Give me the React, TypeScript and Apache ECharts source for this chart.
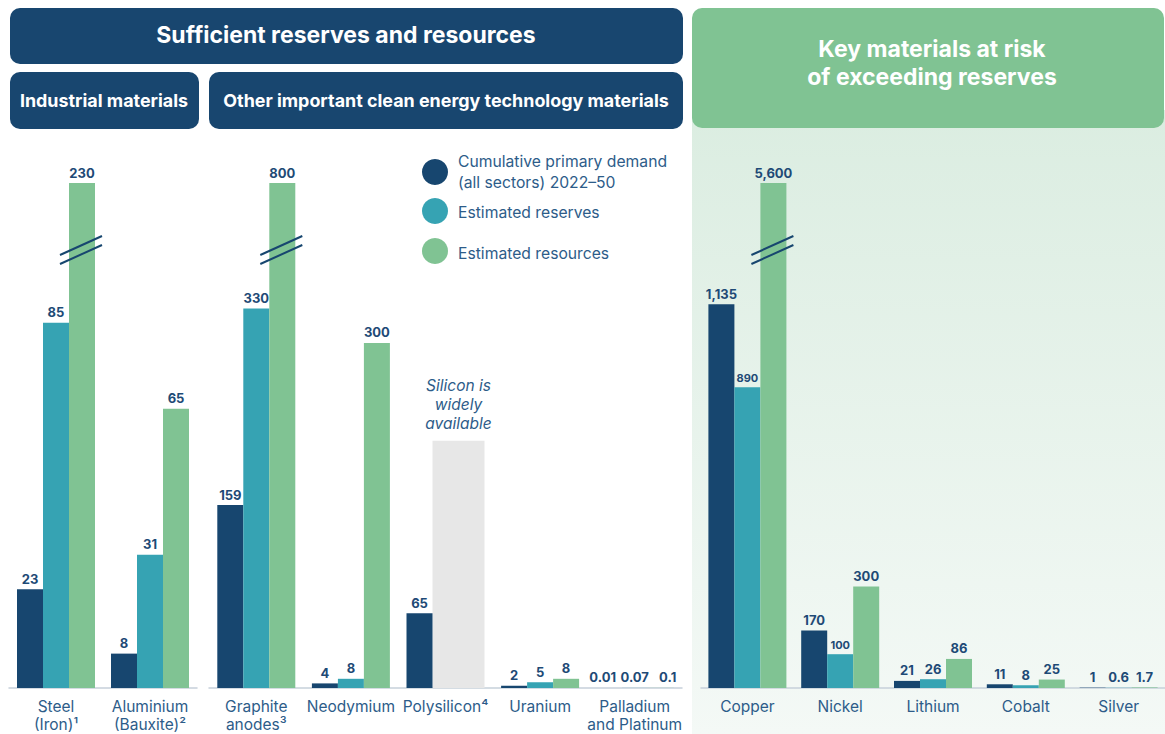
import React, { useEffect, useRef } from 'react';
import * as echarts from 'echarts';

// ---------- data ----------
const seriesNames = ['Cumulative primary demand\n(all sectors) 2022–50', 'Estimated reserves', 'Estimated resources'];

const industrialCategories = ['Steel\n(Iron)¹', 'Aluminium\n(Bauxite)²'];
const industrialDemand = [23, 8];
const industrialReserves = [85, 31];
const industrialResources = [230, 65];

const cleanCategories = ['Graphite\nanodes³', 'Neodymium', 'Polysilicon⁴', 'Uranium', 'Palladium\nand Platinum'];
const cleanDemand = [159, 4, 65, 2, 0.01];
const cleanReserves: (number | null)[] = [330, 8, null, 5, 0.07];
const cleanResources: (number | null)[] = [800, 300, null, 8, 0.1];

const riskCategories = ['Copper', 'Nickel', 'Lithium', 'Cobalt', 'Silver'];
const riskDemand = [1135, 170, 21, 11, 1];
const riskReserves = [890, 100, 26, 8, 0.6];
const riskResources = [5600, 300, 86, 25, 1.7];

// height of the grey "widely available" column for polysilicon (clean-energy scale)
const siliconPlaceholder = 215;
const siliconNote = 'Silicon is\nwidely\navailable';

// value at which each panel's axis is cut (bars above it are drawn broken)
const industrialCap = 117.5;
const cleanCap = 439;
const riskCap = 1494;

// ---------- style ----------
const FONT = 'Inter, "Noto Sans", sans-serif';
const C = {
  demand: '#17466f',
  reserves: '#36a3b3',
  resources: '#80c393',
  grey: '#e7e7e7',
  label: '#1e4a76',
  axisText: '#2d5c89',
  header: '#18466f',
  axisLine: '#c6d0da',
};
const BAR_W = 26;

const fmt = (v: number) => (v >= 1000 ? v.toLocaleString('en-US') : String(v));

function barSeries(gi: number, name: string, arr: (number | null)[], color: string, cap: number, overrides: Record<number, any> = {}) {
  return {
    type: 'bar',
    name,
    xAxisIndex: gi,
    yAxisIndex: gi,
    barWidth: BAR_W,
    barGap: '0%',
    itemStyle: { color },
    label: {
      show: true,
      position: 'top',
      distance: 4,
      color: C.label,
      fontWeight: 'bold',
      fontSize: 13,
      fontFamily: FONT,
      formatter: (p: any) => fmt(arr[p.dataIndex] as number),
    },
    data: arr.map((v, i) => (v == null ? null : { value: Math.min(v, cap), ...(overrides[i] || {}) })),
  };
}

function breakSeries(gi: number, resources: (number | null)[], cap: number) {
  const data = resources
    .map((v, i) => (v != null && v > cap ? [i, cap] : null))
    .filter((d) => d !== null);
  return {
    type: 'custom',
    xAxisIndex: gi,
    yAxisIndex: gi,
    z: 5,
    silent: true,
    data,
    renderItem: (_params: any, api: any) => {
      const top = api.coord([api.value(0), api.value(1)]);
      const x = top[0] + BAR_W;
      const y = top[1] + 66;
      const st = { stroke: C.demand, lineWidth: 2 };
      return {
        type: 'group',
        children: [
          { type: 'line', shape: { x1: x - 22, y1: y + 6, x2: x + 20, y2: y - 13 }, style: st },
          { type: 'line', shape: { x1: x - 22, y1: y + 15, x2: x + 20, y2: y - 4 }, style: st },
        ],
      };
    },
  };
}

function xAxis(gi: number, cats: string[]) {
  return {
    type: 'category',
    gridIndex: gi,
    data: cats,
    axisTick: { show: false },
    axisLine: { show: true, lineStyle: { color: C.axisLine, width: 1.5 } },
    axisLabel: { color: C.axisText, fontSize: 15.5, fontFamily: FONT, lineHeight: 18, margin: 9, interval: 0 },
  };
}
function yAxis(gi: number, cap: number) {
  return { type: 'value', gridIndex: gi, min: 0, max: cap, show: false };
}

export default function App() {
  const ref = useRef<HTMLDivElement>(null);
  useEffect(() => {
    if (!ref.current) return;
    const chart = echarts.init(ref.current, undefined, { renderer: 'svg' });
    const small = { label: { fontSize: 11 } };
    const gridBase = { top: 183, bottom: 46, containLabel: false, outerBoundsMode: 'none' };
    const option: any = {
      animation: false,
      backgroundColor: '#ffffff',
      textStyle: { fontFamily: FONT },
      grid: [
        { ...gridBase, left: 9, width: 188 },
        { ...gridBase, left: 209, width: 473 },
        { ...gridBase, left: 701, width: 464 },
      ],
      xAxis: [xAxis(0, industrialCategories), xAxis(1, cleanCategories), xAxis(2, riskCategories)],
      yAxis: [yAxis(0, industrialCap), yAxis(1, cleanCap), yAxis(2, riskCap)],
      graphic: [
        // right panel background
        {
          type: 'rect', z: -10, silent: true,
          shape: { x: 692, y: 110, width: 473, height: 624 },
          style: {
            fill: new echarts.graphic.LinearGradient(0, 0, 0, 1, [
              { offset: 0, color: '#dbede1' },
              { offset: 1, color: '#f4f9f6' },
            ]),
          },
        },
        { type: 'rect', z: -5, silent: true, shape: { x: 10, y: 8, width: 673, height: 56, r: 10 }, style: { fill: C.header } },
        { type: 'rect', z: -5, silent: true, shape: { x: 10, y: 72, width: 189, height: 57, r: 10 }, style: { fill: C.header } },
        { type: 'rect', z: -5, silent: true, shape: { x: 209, y: 72, width: 474, height: 57, r: 10 }, style: { fill: C.header } },
        { type: 'rect', z: -5, silent: true, shape: { x: 692, y: 8, width: 472, height: 120, r: 10 }, style: { fill: C.resources } },
        {
          type: 'text', x: 346, y: 35, silent: true,
          style: { text: 'Sufficient reserves and resources', fill: '#fff', fontSize: 23, fontWeight: 'bold', fontFamily: FONT, align: 'center', verticalAlign: 'middle' },
        },
        {
          type: 'text', x: 104, y: 100, silent: true,
          style: { text: 'Industrial materials', fill: '#fff', fontSize: 17.9, fontWeight: 'bold', fontFamily: FONT, align: 'center', verticalAlign: 'middle' },
        },
        {
          type: 'text', x: 446, y: 100, silent: true,
          style: { text: 'Other important clean energy technology materials', fill: '#fff', fontSize: 17.9, fontWeight: 'bold', fontFamily: FONT, align: 'center', verticalAlign: 'middle' },
        },
        {
          type: 'text', x: 932, y: 63, silent: true,
          style: { text: 'Key materials at risk\nof exceeding reserves', fill: '#fff', fontSize: 23, lineHeight: 28, fontWeight: 'bold', fontFamily: FONT, align: 'center', verticalAlign: 'middle' },
        },
        // legend
        { type: 'circle', shape: { cx: 435, cy: 172, r: 13 }, style: { fill: C.demand } },
        { type: 'circle', shape: { cx: 435, cy: 211, r: 13 }, style: { fill: C.reserves } },
        { type: 'circle', shape: { cx: 435, cy: 251, r: 13 }, style: { fill: C.resources } },
        {
          type: 'text', x: 458, y: 172,
          style: { text: seriesNames[0], fill: C.axisText, fontSize: 15.7, lineHeight: 21, fontFamily: FONT, align: 'left', verticalAlign: 'middle' },
        },
        {
          type: 'text', x: 458, y: 212,
          style: { text: seriesNames[1], fill: C.axisText, fontSize: 15.7, fontFamily: FONT, align: 'left', verticalAlign: 'middle' },
        },
        {
          type: 'text', x: 458, y: 253,
          style: { text: seriesNames[2], fill: C.axisText, fontSize: 15.7, fontFamily: FONT, align: 'left', verticalAlign: 'middle' },
        },
      ],
      series: [
        barSeries(0, seriesNames[0], industrialDemand, C.demand, industrialCap),
        barSeries(0, seriesNames[1], industrialReserves, C.reserves, industrialCap),
        barSeries(0, seriesNames[2], industrialResources, C.resources, industrialCap),
        breakSeries(0, industrialResources, industrialCap),

        barSeries(1, seriesNames[0], cleanDemand, C.demand, cleanCap, { 4: { label: { offset: [-6, 0] } } }),
        barSeries(1, seriesNames[1], cleanReserves, C.reserves, cleanCap),
        barSeries(1, seriesNames[2], cleanResources, C.resources, cleanCap, { 4: { label: { offset: [7, 0] } } }),
        breakSeries(1, cleanResources, cleanCap),
        {
          type: 'custom',
          xAxisIndex: 1,
          yAxisIndex: 1,
          z: 1,
          silent: true,
          data: [[cleanCategories.indexOf('Polysilicon⁴'), siliconPlaceholder]],
          renderItem: (_p: any, api: any) => {
            const base = api.coord([api.value(0), 0]);
            const top = api.coord([api.value(0), api.value(1)]);
            return {
              type: 'group',
              children: [
                {
                  type: 'rect',
                  shape: { x: base[0] - BAR_W / 2, y: top[1], width: BAR_W * 2, height: base[1] - top[1] },
                  style: { fill: C.grey },
                },
                {
                  type: 'text',
                  x: base[0] + BAR_W / 2,
                  y: top[1] - 8,
                  style: {
                    text: siliconNote, fill: C.axisText, fontSize: 15.5, fontStyle: 'italic', lineHeight: 19,
                    fontFamily: FONT, align: 'center', verticalAlign: 'bottom',
                  },
                },
              ],
            };
          },
        },

        barSeries(2, seriesNames[0], riskDemand, C.demand, riskCap),
        barSeries(2, seriesNames[1], riskReserves, C.reserves, riskCap, { 0: small, 1: small }),
        barSeries(2, seriesNames[2], riskResources, C.resources, riskCap),
        breakSeries(2, riskResources, riskCap),
      ],
    };
    chart.setOption(option);
    return () => chart.dispose();
  }, []);
  return <div ref={ref} style={{ position: 'absolute', left: 0, top: 0, width: 1165, height: 734 }} />;
}
